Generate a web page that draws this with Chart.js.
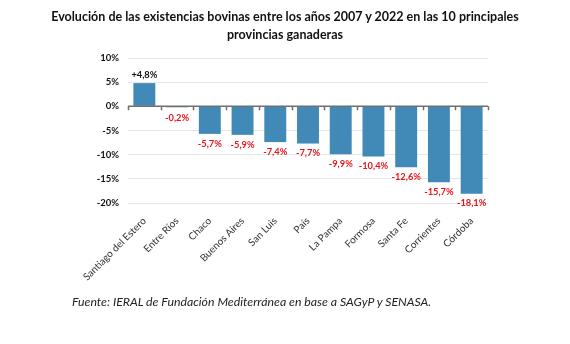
<!DOCTYPE html>
<html>
<head>
<meta charset="utf-8">
<script src="https://cdn.jsdelivr.net/npm/chart.js@4.4.0/dist/chart.umd.min.js"></script>
<style>
    html, body { margin: 0; padding: 0; background: #fff; }
    #wrap { position: relative; width: 570px; height: 344px; }
    #title {
        position: absolute; left: 0; top: 8px; width: 570px; text-align: center;
        font-family: Lato, sans-serif;
        font-weight: bold; font-size: 12.5px; line-height: 18px; color: #111;
    }
    #source {
        position: absolute; left: 72px; top: 294px;
        font-family: Lato, sans-serif;
        font-style: italic; font-size: 12.3px; color: #222;
    }
    canvas { position: absolute; left: 0; top: 0; }
</style>
</head>
<body>
<div id="wrap">
    <canvas id="stockChart" width="570" height="344"></canvas>
    <div id="title">Evolución de las existencias bovinas entre los años 2007 y 2022 en las 10 principales<br>provincias ganaderas</div>
    <div id="source">Fuente: IERAL de Fundación Mediterránea en base a SAGyP y SENASA.</div>
</div>
<script>
// Chart data
const provinces = ['Santiago del Estero', 'Entre Ríos', 'Chaco', 'Buenos Aires', 'San Luis', 'País',
    'La Pampa', 'Formosa', 'Santa Fe', 'Corrientes', 'Córdoba'];
const changes = [4.8, -0.2, -5.7, -5.9, -7.4, -7.7, -9.9, -10.4, -12.6, -15.7, -18.1];
const yTicks = [10, 5, 0, -5, -10, -15, -20];

const FONT = "Lato, sans-serif";

function formatPct(v) {
    return (v > 0 ? '+' : '') + v.toFixed(1).replace('.', ',') + '%';
}

// Zero line with small ticks + value labels
const barLabels = {
    id: 'barLabels',
    afterDatasetsDraw(chart) {
        const ctx = chart.ctx;
        const x = chart.scales.x;
        const y = chart.scales.y;
        const y0 = y.getPixelForValue(0);
        const step = (x.right - x.left) / provinces.length;

        ctx.save();
        ctx.strokeStyle = '#6f6f6f';
        ctx.lineWidth = 1.5;
        ctx.beginPath();
        ctx.moveTo(x.left, y0);
        ctx.lineTo(x.right, y0);
        for (let i = 0; i <= provinces.length; i++) {
            const px = Math.round(x.left + i * step) + 0.5;
            ctx.moveTo(px, y0);
            ctx.lineTo(px, y0 + 4);
        }
        ctx.stroke();

        ctx.font = 'bold 9.3px ' + FONT;
        ctx.textAlign = 'center';
        chart.getDatasetMeta(0).data.forEach((bar, i) => {
            const v = changes[i];
            if (v >= 0) {
                ctx.fillStyle = '#111';
                ctx.textBaseline = 'bottom';
                ctx.fillText(formatPct(v), bar.x, bar.y - 3);
            } else {
                ctx.fillStyle = '#e8141c';
                ctx.textBaseline = 'top';
                ctx.fillText(formatPct(v), bar.x, Math.max(bar.y, y0 + 2) + 5);
            }
        });
        ctx.restore();
    }
};

new Chart(document.getElementById('stockChart'), {
    type: 'bar',
    data: {
        labels: provinces,
        datasets: [{
            data: changes,
            backgroundColor: '#4189b6',
            categoryPercentage: 1,
            barPercentage: 0.67
        }]
    },
    options: {
        responsive: false,
        animation: false,
        layout: { padding: { left: 0, right: 82, top: 58, bottom: 41 } },
        plugins: {
            legend: { display: false },
            tooltip: { enabled: false }
        },
        scales: {
            x: {
                grid: { display: false },
                border: { display: false },
                ticks: {
                    color: '#333',
                    font: { family: FONT, size: 10 },
                    maxRotation: 45,
                    minRotation: 45,
                    autoSkip: false,
                    padding: 4
                },
                afterFit(scale) { scale.height = 100; }
            },
            y: {
                min: -20,
                max: 10,
                afterBuildTicks(scale) {
                    scale.ticks = yTicks.map(v => ({ value: v }));
                },
                grid: {
                    color: ctx => ctx.tick && ctx.tick.value === 0 ? 'rgba(0,0,0,0)' : '#e6e6e6',
                    drawTicks: false
                },
                border: { display: false },
                ticks: {
                    color: '#111',
                    font: { family: FONT, size: 9.5, weight: 'bold' },
                    padding: 9,
                    callback: v => v + '%'
                },
                afterFit(scale) { scale.width = 128; }
            }
        }
    },
    plugins: [barLabels]
});
</script>
</body>
</html>
